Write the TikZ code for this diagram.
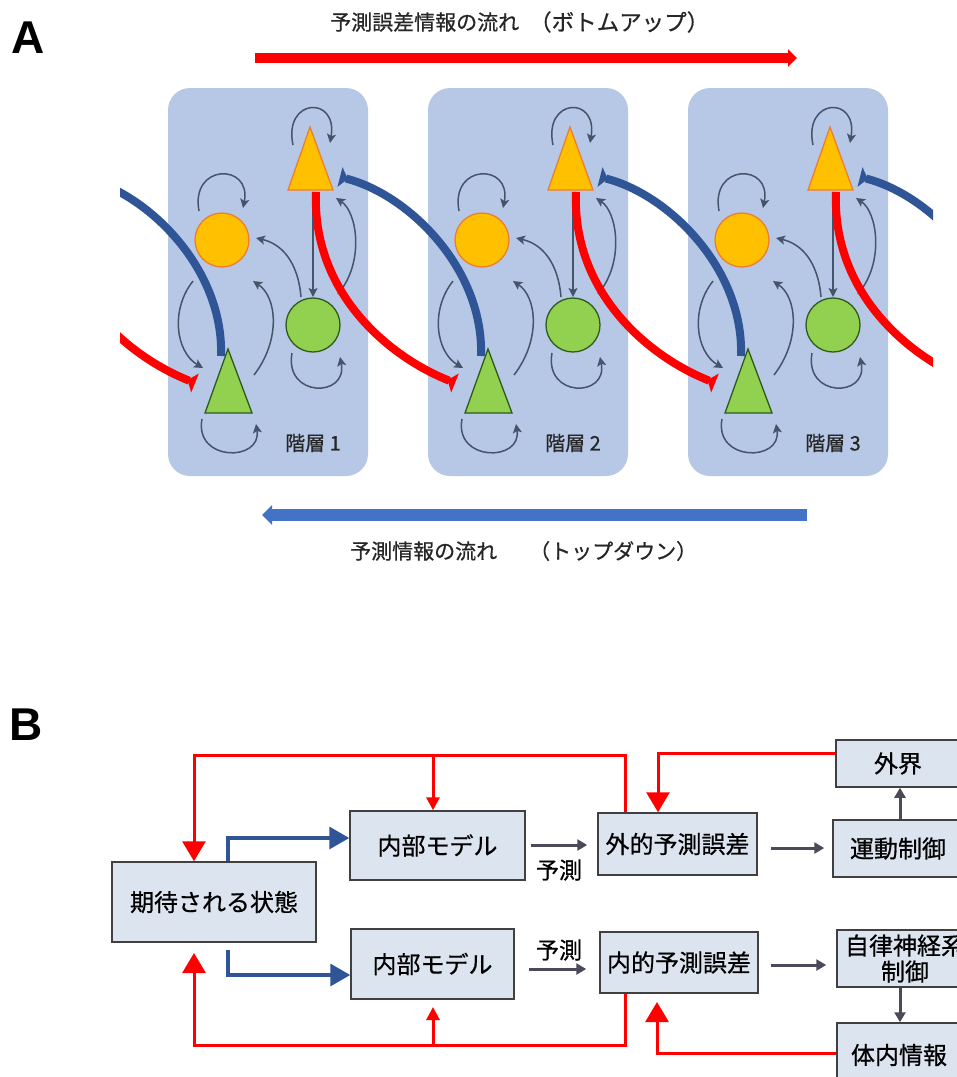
\documentclass[tikz,border=0pt]{standalone}
\usepackage{fontspec}
\setmainfont{Liberation Sans}
\newfontfamily\jp[FakeBold=0.6]{Noto Sans CJK JP}
\usetikzlibrary{arrows.meta,calc}
\definecolor{panelbg}{HTML}{B7C8E6}
\definecolor{ofill}{HTML}{FFC000}
\definecolor{oline}{HTML}{ED7D31}
\definecolor{gfill}{HTML}{92D050}
\definecolor{gline}{HTML}{2E5A1C}
\definecolor{garrow}{HTML}{44546A}
\definecolor{tdblue}{HTML}{2F5597}
\definecolor{flowblue}{HTML}{4472C4}
\definecolor{boxfill}{HTML}{DCE4F0}
\definecolor{boxline}{HTML}{404040}
\definecolor{darkgrayline}{HTML}{4A4A58}
\definecolor{pred}{HTML}{FF0000}
\tikzset{
  panel/.style={rectangle, rounded corners=22pt, minimum width=200pt, minimum height=388pt, fill=panelbg, draw=none},
  ocirc/.style={circle, minimum size=54pt, inner sep=0pt, fill=ofill, draw=oline, line width=1.3pt},
  gcirc/.style={circle, minimum size=54pt, inner sep=0pt, fill=gfill, draw=gline, line width=1.3pt},
  otri/.style={fill=ofill, draw=oline, line width=1.3pt, line join=miter},
  gtri/.style={fill=gfill, draw=gline, line width=1.3pt, line join=miter},
  sarr/.style={draw=garrow, line width=1.5pt, -{Stealth[length=9pt,width=9pt,inset=2pt]}},
  thickred/.style={draw=pred, line width=8pt, -{Triangle[reversed,length=8pt,width=20pt]}},
  thickblue/.style={draw=tdblue, line width=8pt, -{Triangle[reversed,length=8pt,width=20pt]}},
  lvl/.style={font=\jp\fontsize{20}{22}\selectfont, text=black!85, inner sep=0pt},
  flowtxt/.style={font=\jp\fontsize{21}{23}\selectfont, text=black!85, inner sep=0pt},
  bigletter/.style={font=\bfseries\fontsize{46}{48}\selectfont, inner sep=0pt},
  bbox/.style={draw=boxline, fill=boxfill, line width=1.5pt, font=\jp\fontsize{24}{26}\selectfont, inner sep=0pt, align=center},
  redline/.style={draw=pred, line width=3pt},
  bigred/.style={redline, -{Triangle[length=20pt,width=23pt]}},
  smallred/.style={redline, -{Triangle[length=13pt,width=13pt]}},
  blueline/.style={draw=tdblue, line width=3.5pt, -{Triangle[length=20pt,width=22pt]}},
  grayarr/.style={draw=darkgrayline, line width=3pt, -{Triangle[length=10pt,width=11pt]}},
  predlbl/.style={font=\jp\fontsize{23}{25}\selectfont, inner sep=0pt}
}
\newcommand\layer[2]{%
\begin{scope}[xshift=#1]
\node[panel] (p#2) at (268,282) {};
\node[ocirc] (oc#2) at (222,240) {};
\node[gcirc] (gc#2) at (313,325) {};
\draw[otri] (288,190) -- (310,127) -- (333,190) -- cycle;
\draw[gtri] (205,413) -- (228,349) -- (252,413) -- cycle;
\coordinate (ot#2) at (310,170);
\coordinate (gt#2) at (228,390);
\draw[sarr] (293,145) .. controls (283,98) and (338,95) .. (330,143);
\draw[sarr] (199,211) .. controls (190,163) and (252,163) .. (243,208);
\draw[sarr] (292,353) .. controls (284,398) and (348,398) .. (340,357);
\draw[sarr] (202,419) .. controls (194,462) and (262,462) .. (256,424);
\draw[sarr] (193,281) .. controls (170,310) and (176,352) .. (203,368);
\draw[sarr] (254,375) .. controls (281,340) and (277,297) .. (253,281);
\draw[sarr] (301,297) .. controls (298,262) and (282,244) .. (256,238);
\draw[sarr] (313,193) -- (313,297);
\draw[sarr] (338,294) .. controls (365,262) and (357,212) .. (336,198);
\node[lvl] (lab#2) at (313,443) {階層 #2};
\end{scope}}
\begin{document}
\begin{tikzpicture}[x=1pt,y=-1pt]
\clip (0,0) rectangle (957,1077);
\fill[white] (0,0) rectangle (957,1077);
% ---------- A ----------
\node[bigletter] (la) at (28,38) {A};
\node[flowtxt, anchor=west] (tt1) at (330,22) {予測誤差情報の流れ};
\node[flowtxt, anchor=west, font=\jp\fontsize{22.5}{24}\selectfont] (tt2) at (529,22) {（ボトムアップ）};
\coordinate (ra1) at (255,58);
\coordinate (ra2) at (797,58);
\draw[draw=pred, line width=10pt, -{Triangle[length=9pt,width=17pt]}] (ra1) -- (ra2);
\layer{0pt}{1}
\layer{260pt}{2}
\layer{520pt}{3}
\begin{scope}
\clip (120,80) rectangle (933,480);
\foreach \d in {-260,0,260,520} {
  \draw[thickred] (316+\d,192) .. controls (312+\d,290) and (385+\d,355) .. (455+\d,383);
  \draw[thickblue] (481+\d,356) .. controls (484+\d,270) and (410+\d,195) .. (340+\d,177);
}
\end{scope}
\coordinate (ba1) at (807,515);
\coordinate (ba2) at (262,515);
\draw[draw=flowblue, line width=12pt, -{Triangle[length=10pt,width=19pt]}] (ba1) -- (ba2);
\node[flowtxt, anchor=west] (bt1) at (350,551) {予測情報の流れ};
\node[flowtxt, anchor=west] (bt2) at (529,551) {（トップダウン）};
% ---------- B ----------
\node[bigletter] (lb) at (26,725) {B};
\node[bbox, minimum width=204pt, minimum height=80pt] (exp) at (214,902) {期待される状態};
\node[bbox, minimum width=175pt, minimum height=69pt] (im1) at (437.5,845.5) {内部モデル};
\node[bbox, minimum width=163pt, minimum height=70pt] (im2) at (432.5,964) {内部モデル};
\node[bbox, minimum width=159pt, minimum height=62pt] (ext) at (677.5,844) {外的予測誤差};
\node[bbox, minimum width=158pt, minimum height=61pt] (int) at (679,962.5) {内的予測誤差};
\node[bbox, minimum width=124pt, minimum height=47pt] (world) at (898,763.5) {外界};
\node[bbox, minimum width=130pt, minimum height=57pt] (motor) at (898,848.5) {運動制御};
\node[bbox, minimum width=136pt, minimum height=57pt] (auto) at (905,958.5) {自律神経系\\制御};
\node[bbox, minimum width=124pt, minimum height=64pt] (body) at (899,1055) {体内情報};
% red feedback loops
\draw[bigred] (625,0 |- ext.north) -- (625,755) -- (194,755) -- (194,0 |- exp.north);
\draw[smallred] (433,755) -- (433,0 |- im1.north);
\draw[bigred] (world.west |- 0,753) -- (658,753) -- (658,0 |- ext.north);
\draw[bigred] (625,0 |- int.south) -- (625,1045) -- (194,1045) -- (194,953);
\draw[smallred] (433,1045) -- (433,1007);
\draw[bigred] (body.west |- 0,1053) -- (657,1053) -- (657,1002);
% blue predictions
\draw[blueline] (228,0 |- exp.north) -- (228,838) -- (im1.west |- 0,838);
\draw[blueline] (228,950) -- (228,975) -- (im2.west |- 0,975);
% gray arrows
\draw[grayarr, shorten <=5pt, shorten >=10pt] (im1.east |- 0,845) -- (ext.west |- 0,845);
\node[predlbl] (pl1) at (559,870) {予測};
\draw[grayarr, shorten <=14pt, shorten >=13pt] (im2.east |- 0,969) -- (int.west |- 0,969);
\node[predlbl] (pl2) at (559,950) {予測};
\draw[grayarr, shorten <=13pt, shorten >=8pt] (ext.east |- 0,848) -- (motor.west |- 0,848);
\draw[grayarr, shorten <=12pt, shorten >=10pt] (int.east |- 0,965) -- (auto.west |- 0,965);
\draw[grayarr] (900,0 |- motor.north) -- (900,0 |- world.south);
\draw[grayarr] (900,0 |- auto.south) -- (900,0 |- body.north);
\end{tikzpicture}
\end{document}
